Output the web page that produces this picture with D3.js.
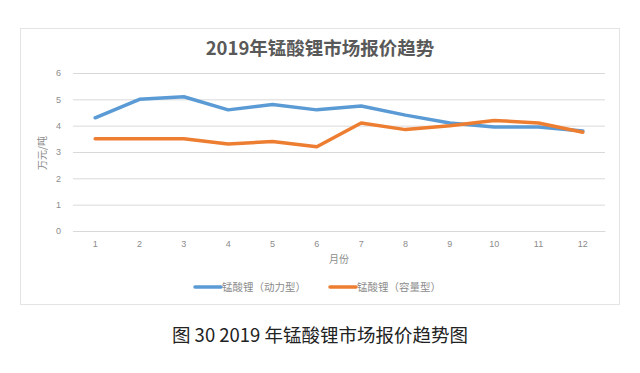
<!DOCTYPE html>
<html>
<head>
<meta charset="utf-8">
<script src="https://cdn.jsdelivr.net/npm/d3@7"></script>
<style>
  body { margin: 0; background: #fff; }
  svg { display: block; font-family: "Noto Sans CJK SC", "Noto Sans", sans-serif; }
</style>
</head>
<body>
<svg width="640" height="373"></svg>
<script>
var months = ["1", "2", "3", "4", "5", "6", "7", "8", "9", "10", "11", "12"];
var power = [4.3, 5.0, 5.1, 4.6, 4.8, 4.6, 4.75, 4.4, 4.1, 3.95, 3.95, 3.8];
var capacity = [3.5, 3.5, 3.5, 3.3, 3.4, 3.2, 4.1, 3.85, 4.0, 4.2, 4.1, 3.75];
var yTicks = [0, 1, 2, 3, 4, 5, 6];
var seriesNames = ["锰酸锂（动力型）", "锰酸锂（容量型）"];
var colors = ["#5b9bd5", "#ed7d31"];

var svg = d3.select("svg");

// chart frame
svg.append("rect")
    .attr("x", 20.5).attr("y", 28.5)
    .attr("width", 599).attr("height", 276)
    .attr("fill", "#fff").attr("stroke", "#e4e4e4");

// plot area (don't use "top" - clashes with window.top)
var plotLeft = 73, plotRight = 605, plotTop = 73, plotBottom = 231;

var x = d3.scaleBand().domain(months).range([plotLeft, plotRight]);
var y = d3.scaleLinear().domain([0, 6]).range([plotBottom, plotTop]);

// gridlines + y labels
var yAxis = d3.axisLeft(y).tickValues(yTicks).tickFormat(d3.format("d"))
    .tickSize(-(plotRight - plotLeft)).tickPadding(12);
var gy = svg.append("g").attr("transform", "translate(" + plotLeft + ",0)").call(yAxis);
gy.select(".domain").remove();
gy.selectAll("line").attr("stroke", "#d9d9d9");
gy.selectAll("text").attr("fill", "#8c8c8c").style("font-size", "9px");

// x labels
var xAxis = d3.axisBottom(x).tickSize(0).tickPadding(10);
var gx = svg.append("g").attr("transform", "translate(0," + plotBottom + ")").call(xAxis);
gx.select(".domain").attr("stroke", "#d9d9d9");
gx.selectAll("text").attr("fill", "#8c8c8c").style("font-size", "9px");

// lines
var line = d3.line()
    .x(function (d, i) { return x(months[i]) + x.bandwidth() / 2; })
    .y(function (d) { return y(d); });

[power, capacity].forEach(function (s, k) {
    svg.append("path")
        .datum(s)
        .attr("d", line)
        .attr("fill", "none")
        .attr("stroke", colors[k])
        .attr("stroke-width", 3.5)
        .attr("stroke-linejoin", "round")
        .attr("stroke-linecap", "round");
});

// title
svg.append("text")
    .attr("x", 320).attr("y", 54.5)
    .attr("text-anchor", "middle")
    .attr("fill", "#595959")
    .style("font-size", "18.5px").style("font-weight", "bold")
    .text("2019年锰酸锂市场报价趋势");

// axis titles
svg.append("text")
    .attr("transform", "translate(46,153) rotate(-90)")
    .attr("text-anchor", "middle")
    .attr("fill", "#8c8c8c")
    .style("font-size", "10px")
    .text("万元/吨");

svg.append("text")
    .attr("x", 339).attr("y", 263)
    .attr("text-anchor", "middle")
    .attr("fill", "#8c8c8c")
    .style("font-size", "10px")
    .text("月份");

// legend
var legendX = [195, 330];
seriesNames.forEach(function (name, k) {
    var g = svg.append("g").attr("transform", "translate(" + legendX[k] + ",287)");
    g.append("line")
        .attr("x1", 0).attr("x2", 26)
        .attr("stroke", colors[k]).attr("stroke-width", 3.5)
        .attr("stroke-linecap", "round");
    g.append("text")
        .attr("x", 27).attr("y", 4)
        .attr("fill", "#8c8c8c")
        .style("font-size", "10.5px")
        .text(name);
});

// caption
svg.append("text")
    .attr("x", 320).attr("y", 342)
    .attr("text-anchor", "middle")
    .attr("fill", "#222")
    .style("font-size", "18.5px")
    .text("图 30 2019 年锰酸锂市场报价趋势图");
</script>
</body>
</html>
